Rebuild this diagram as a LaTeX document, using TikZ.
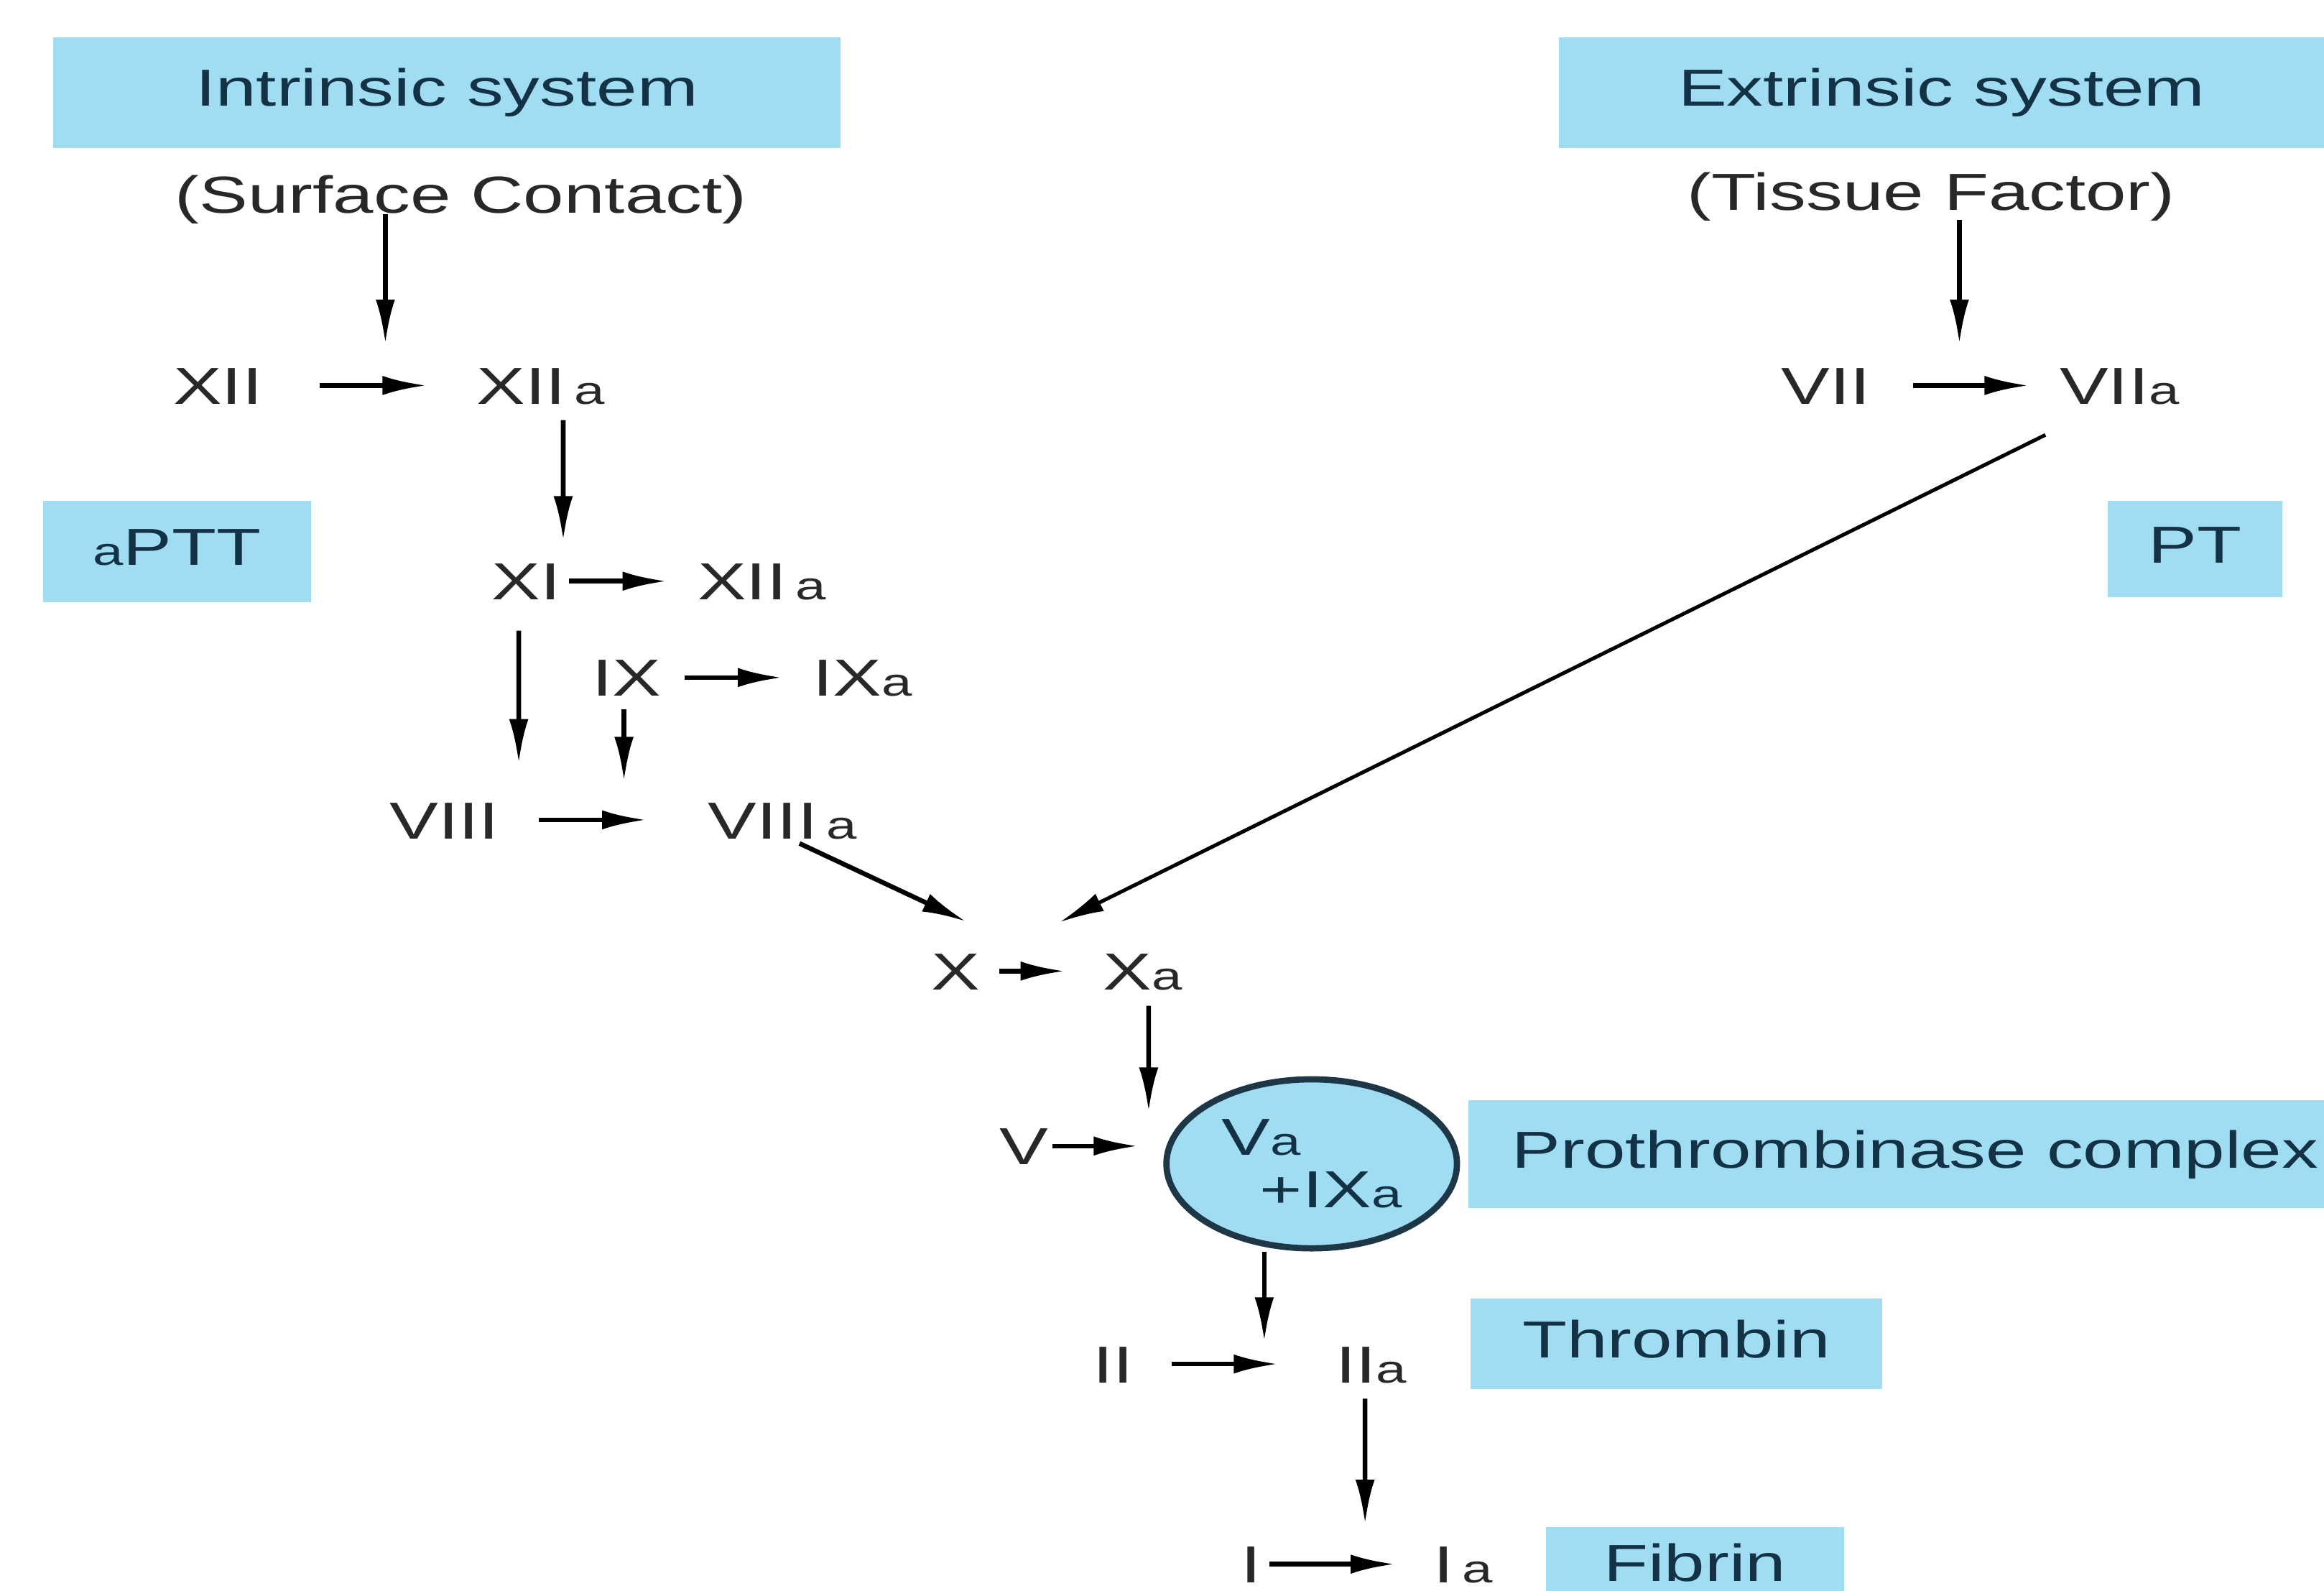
\documentclass[tikz,border=0pt]{standalone}
\usepackage{fontspec}
\setmainfont{Liberation Sans}[FakeStretch=1.4]
\usetikzlibrary{arrows.meta, positioning, shapes.geometric}
\definecolor{boxblue}{RGB}{160,221,243}
\definecolor{boxtext}{RGB}{20,50,70}
\definecolor{factext}{RGB}{40,40,40}
\definecolor{rimblue}{RGB}{30,55,70}
\newcommand{\act}{{\fontsize{7.5}{8}\selectfont a}}

\begin{document}
\begin{tikzpicture}[x=0.1mm, y=-0.1mm, >={Latex[length=3mm,width=1.3mm]},
  fac/.style={inner sep=0pt, text height=7.2pt, text depth=0pt, text=factext},
  hdr/.style={fill=boxblue, text=boxtext, inner sep=0pt, text height=7.2pt, text depth=2pt},
  arr/.style={->, line width=0.9pt}]
\useasboundingbox (0,0) rectangle (1568,1073);

\node (intr)  [hdr, minimum width=53.1mm, minimum height=7.5mm] at (301.5,62.5) {Intrinsic system};
\node (extr)  [hdr, minimum width=51.6mm, minimum height=7.5mm] at (1310,62.5)  {Extrinsic system};
\node (surf)  [fac] at (311,131)  {(Surface Contact)};
\node (tiss)  [fac] at (1303,129) {(Tissue Factor)};
\node (aptt)  [hdr, minimum width=18.1mm, minimum height=6.8mm] at (119.5,372) {\act PTT};
\node (pt)    [hdr, minimum width=11.8mm, minimum height=6.5mm] at (1481,370.5) {PT};

\node (xii)   [fac] at (147,260)  {XII};
\node (xiia)  [fac] at (365,260)  {XII\,\act};
\node (xi)    [fac] at (355,392)  {XI};
\node (xiib)  [fac] at (514,392)  {XII\,\act};
\node (ix)    [fac] at (423,457)  {IX};
\node (ixa)   [fac] at (582,457)  {IX\act};
\node (viii)  [fac] at (300,553)  {VIII};
\node (viiia) [fac] at (528,553)  {VIII\,\act};
\node (x)     [fac] at (645,655)  {X};
\node (xa)    [fac] at (771,655)  {X\act};
\node (vii)   [fac] at (1232,260) {VII};
\node (viia)  [fac] at (1430,260) {VII\act};
\node (v)     [fac] at (691,773)  {V};
\node (ii)    [fac] at (751,920)  {II};
\node (iia)   [fac] at (925,920)  {II\act};
\node (i)     [fac] at (844,1055) {I};
\node (ia)    [fac] at (987,1055) {I\,\act};

\node (cmplx) [ellipse, draw=rimblue, line width=1.2pt, fill=boxblue, text=boxtext, minimum width=19.6mm,
               minimum height=11.4mm, inner sep=0pt, align=left] at (885,785) {V\act\\[-2pt]\hspace*{2.6mm}+IX\act};
\node (prot)  [hdr, anchor=west, minimum width=57.8mm, minimum height=7.3mm] at (990,778.5) {\hspace*{2.5mm}Prothrombinase complex};
\node (thr)   [hdr, minimum width=27.8mm, minimum height=6.1mm] at (1131,906.5) {Thrombin};
\node (fib)   [hdr, minimum width=20.1mm, minimum height=4.3mm] at (1143.5,1051.5) {\raisebox{-0.6mm}{Fibrin}};

\coordinate (cxii)   at (260,232);
\coordinate (cvii)   at (1322,232);
\coordinate (cviii)  at (350,515);
\coordinate (cviiib) at (421,527);
\coordinate (cx)     at (715,622);
\coordinate (cv)     at (775,750);
\coordinate (cii)    at (853,905);
\coordinate (ci)     at (921,1028);

\draw[arr] (surf.south -| cxii) -- (cxii);
\draw[arr, shorten <=3.8mm, shorten >=3.3mm] (xii) -- (xiia);
\draw[arr, shorten <=1mm, shorten >=1.4mm] ([xshift=1.5mm]xiia.south) -- ([xshift=2.5mm]xi.north);
\draw[arr, shorten <=0.5mm, shorten >=2mm] (xi) -- (xiib);
\draw[arr, shorten <=2mm] ([xshift=-0.5mm]xi.south) -- (cviii);
\draw[arr, shorten <=1.5mm, shorten >=2mm] (ix) -- (ixa);
\draw[arr, shorten <=0.8mm] (ix.south -| cviiib) -- (cviiib);
\draw[arr, shorten <=2.6mm, shorten >=4.1mm] (viii) -- (viiia);
\draw[arr, shorten <=0.6mm] ([xshift=0.6mm]viiia.south) -- ([xshift=0.7mm,yshift=2mm]x.north);
\draw[arr, shorten <=0.6mm] (tiss.south -| cvii) -- (cvii);
\draw[arr, shorten <=2.8mm, shorten >=2mm] (vii) -- (viia);
\draw[arr, line width=0.7pt] ([xshift=-5mm,yshift=-2mm]viia.south) -- (cx);
\draw[arr, shorten <=1.2mm, shorten >=2.5mm] (x) -- (xa);
\draw[arr, shorten <=1mm] ([xshift=0.4mm]xa.south) -- (cv);
\draw[arr, shorten <=0.2mm, shorten >=1.7mm] (v.east) -- (v.east -| cmplx.west);
\draw[arr] (cmplx.south -| cii) -- (cii);
\draw[arr, shorten <=2.5mm, shorten >=3.8mm] (ii) -- (iia);
\draw[arr, shorten <=1mm] ([xshift=-0.4mm]iia.south) -- (ci);
\draw[arr, shorten <=0.5mm, shorten >=2.5mm] (i) -- (ia);
\end{tikzpicture}
\end{document}
